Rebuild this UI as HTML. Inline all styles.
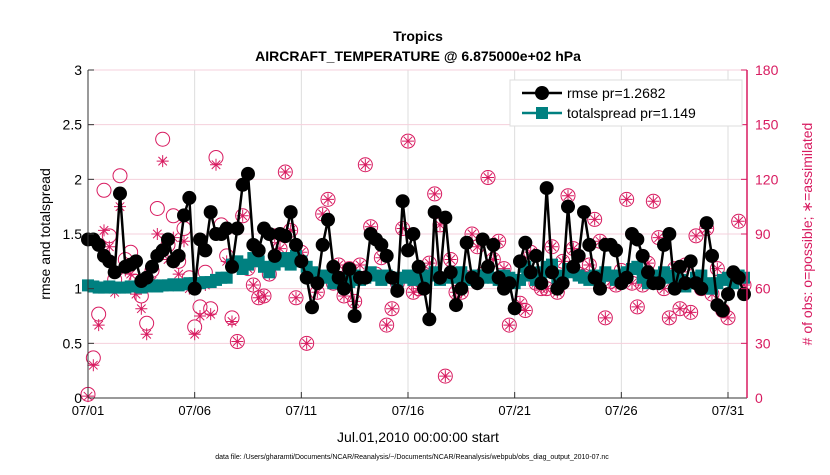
<!DOCTYPE html>
<html><head><meta charset="utf-8"><style>
body{margin:0;background:#fff;width:830px;height:470px;overflow:hidden;font-family:"Liberation Sans",sans-serif}
</style></head><body>
<svg id="chart" width="830" height="470" xmlns="http://www.w3.org/2000/svg" font-family="Liberation Sans, sans-serif">
<rect width="830" height="470" fill="#fff"/>
<g id="grid"></g>
<g id="obs"></g>
<g id="series"></g>
<g id="axes"></g>
<text x="418" y="41" font-size="14" font-weight="bold" text-anchor="middle">Tropics</text>
<text x="418" y="61" font-size="14" font-weight="bold" text-anchor="middle">AIRCRAFT_TEMPERATURE @ 6.875000e+02 hPa</text>
<text transform="translate(50,234) rotate(-90)" font-size="14" text-anchor="middle">rmse and totalspread</text>
<text transform="translate(812,234) rotate(-90)" font-size="14" fill="#d81b60" text-anchor="middle"># of obs: o=possible; ∗=assimilated</text>
<text x="418" y="442" font-size="14" text-anchor="middle">Jul.01,2010 00:00:00 start</text>
<text x="412" y="459" font-size="7" text-anchor="middle">data file: /Users/gharamti/Documents/NCAR/Reanalysis/~/Documents/NCAR/Reanalysis/webpub/obs_diag_output_2010-07.nc</text>
<g>
<rect x="510" y="80" width="232" height="46" fill="#fff" stroke="#ddd"/>
<line x1="522" y1="93" x2="562" y2="93" stroke="#000" stroke-width="2.5"/>
<circle cx="542" cy="93" r="7" fill="#000"/>
<text x="567" y="98" font-size="14">rmse pr=1.2682</text>
<line x1="522" y1="113" x2="562" y2="113" stroke="#008080" stroke-width="2.5"/>
<rect x="536" y="107" width="12" height="12" fill="#008080"/>
<text x="567" y="118" font-size="14">totalspread pr=1.149</text>
</g>
</svg>
<script>
const xTickLabels=["07/01","07/06","07/11","07/16","07/21","07/26","07/31"];
const xTickDays=[0,5,10,15,20,25,30];
const yTicks=[0,0.5,1,1.5,2,2.5,3];
const y2Ticks=[0,30,60,90,120,150,180];
const rmse=[1.45,1.45,1.40,1.30,1.25,1.15,1.87,1.20,1.22,1.25,1.07,1.10,1.20,1.30,1.35,1.45,1.25,1.30,1.67,1.83,1.00,1.45,1.35,1.70,1.50,1.50,1.55,1.20,1.55,1.95,2.05,1.40,1.35,1.55,1.50,1.30,1.50,1.48,1.70,1.40,1.25,1.10,0.83,1.05,1.40,1.63,1.20,1.10,1.00,1.18,0.75,1.10,1.10,1.50,1.45,1.40,1.30,1.10,0.98,1.80,1.35,1.50,1.20,1.00,0.72,1.70,1.10,1.65,1.15,0.85,1.00,1.42,1.10,1.05,1.45,1.20,1.40,1.10,1.00,1.05,0.82,1.25,1.42,1.15,1.30,1.05,1.92,1.15,1.00,1.05,1.75,1.20,1.30,1.70,1.40,1.10,1.00,1.40,1.40,1.35,1.05,1.10,1.50,1.45,1.30,1.15,1.05,1.05,1.40,1.50,1.00,1.20,1.05,1.25,1.05,1.00,1.60,1.30,0.85,0.80,0.95,1.15,1.10,0.95];
const spread=[1.03,1.02,1.01,1.01,1.02,1.01,1.01,1.01,1.02,1.02,1.01,1.02,1.03,1.02,1.03,1.03,1.04,1.03,1.04,1.05,1.05,1.05,1.06,1.06,1.08,1.10,1.10,1.22,1.25,1.18,1.22,1.28,1.25,1.20,1.15,1.22,1.25,1.28,1.22,1.30,1.25,1.20,1.15,1.10,1.12,1.10,1.05,1.08,1.10,1.06,1.12,1.08,1.10,1.15,1.12,1.08,1.12,1.10,1.05,1.10,1.12,1.08,1.10,1.06,1.12,1.15,1.08,1.10,1.12,1.10,1.15,1.08,1.10,1.12,1.10,1.15,1.10,1.08,1.12,1.10,1.05,1.08,1.20,1.12,1.08,1.15,1.20,1.22,1.10,1.12,1.18,1.15,1.12,1.10,1.08,1.12,1.10,1.15,1.12,1.08,1.12,1.15,1.18,1.20,1.10,1.05,1.10,1.12,1.15,1.10,1.12,1.08,1.02,1.05,1.10,1.12,1.05,1.00,1.05,1.08,1.10,1.05,1.12,1.10];
const possible=[2,22,46,114,89,65,122,76,80,64,56,41,70,104,142,84,100,75,93,66,39,50,69,49,132,95,78,44,31,100,71,62,55,56,68,89,82,124,92,55,80,30,67,58,101,109,63,73,56,71,53,73,128,94,68,77,40,49,63,93,141,58,60,68,74,112,95,12,76,58,58,66,90,83,68,121,76,86,71,40,64,52,48,80,63,60,60,83,58,75,111,82,68,67,73,98,86,44,64,62,70,109,63,50,62,74,108,88,60,44,71,49,73,47,89,60,93,57,71,48,44,64,97,62];
const assimilated=[1,18,40,92,83,58,105,70,68,57,49,35,64,90,130,76,88,68,86,60,35,45,62,46,128,91,75,42,31,100,71,62,55,56,68,89,82,124,92,55,80,30,67,58,101,109,63,73,56,71,53,73,128,94,68,77,40,49,63,93,141,58,60,68,74,112,95,12,76,58,58,66,90,83,68,121,76,86,71,40,64,52,48,80,63,60,60,83,58,75,111,82,68,67,73,98,86,44,64,62,70,109,63,50,62,74,108,88,60,44,71,49,73,47,89,60,93,57,71,48,44,64,97,62];

const NS="http://www.w3.org/2000/svg";
const X0=88,X1=747,Y0=398,Y1=70,PINK="#d81b60";
const xs=d=>X0+d*(640/30);
const ys=v=>Y0-v*(Y0-Y1)/3;
const ys2=n=>Y0-n*(Y0-Y1)/180;
function mk(tag,attrs,parent){const e=document.createElementNS(NS,tag);for(const k in attrs)e.setAttribute(k,attrs[k]);parent.appendChild(e);return e;}
const grid=document.getElementById('grid'),axes=document.getElementById('axes'),obs=document.getElementById('obs'),ser=document.getElementById('series');
xTickDays.forEach((d,i)=>{
  const g=mk('line',{x1:xs(d),x2:xs(d),y1:Y1,y2:Y0,stroke:"#ddd","stroke-width":1},grid);
  
  
  mk('line',{x1:xs(d),x2:xs(d),y1:Y0,y2:Y0-6,stroke:"#333"},axes);
  const t=mk('text',{x:xs(d),y:Y0+17,"font-size":13,"text-anchor":"middle"},axes);t.textContent=xTickLabels[i];
  
  
});
yTicks.forEach(v=>{
  const g=mk('line',{x1:X0,x2:X1,y1:ys(v),y2:ys(v),stroke:"#f5d0dc","stroke-width":1},grid);
  
  
  mk('line',{x1:X0,x2:X0+6,y1:ys(v),y2:ys(v),stroke:"#333"},axes);
  const t=mk('text',{x:X0-6,y:ys(v)+5,"font-size":14,"text-anchor":"end"},axes);t.textContent=String(v);
  
  
});
y2Ticks.forEach(n=>{
  mk('line',{x1:X1,x2:X1-6,y1:ys2(n),y2:ys2(n),stroke:PINK},axes);
  const t=mk('text',{x:X1+8,y:ys2(n)+5,"font-size":14,fill:PINK},axes);t.textContent=String(n);
  
  
});
mk('line',{x1:X0,x2:X0,y1:Y1,y2:Y0,stroke:"#333"},axes);
mk('line',{x1:X0,x2:X1,y1:Y0,y2:Y0,stroke:"#333"},axes);
mk('line',{x1:X1,x2:X1,y1:Y1,y2:Y0,stroke:PINK,"stroke-width":1.5},axes);
const dayOf=i=>i/4;
possible.forEach((n,i)=>{
  const c=mk('circle',{cx:xs(dayOf(i)),cy:ys2(n),r:7,fill:"none",stroke:PINK,"stroke-width":1},obs);
  
  
});
assimilated.forEach((n,i)=>{
  const cx=xs(dayOf(i)),cy=ys2(n),r=6;let d="";
  for(let k=0;k<4;k++){const a=k*Math.PI/4+Math.PI/2;d+=`M${cx-r*Math.cos(a)},${cy-r*Math.sin(a)}L${cx+r*Math.cos(a)},${cy+r*Math.sin(a)}`;}
  const p=mk('path',{d:d,stroke:PINK,"stroke-width":1,fill:"none"},obs);
  
  
});
const sp=mk('polyline',{points:spread.map((v,i)=>xs(dayOf(i))+","+ys(v)).join(" "),fill:"none",stroke:"#008080","stroke-width":2.5},ser);


spread.forEach((v,i)=>{
  const r=mk('rect',{x:xs(dayOf(i))-6,y:ys(v)-6,width:12,height:12,fill:"#008080"},ser);
  
  
});
const rl=mk('polyline',{points:rmse.map((v,i)=>xs(dayOf(i))+","+ys(v)).join(" "),fill:"none",stroke:"#000","stroke-width":2.5},ser);


rmse.forEach((v,i)=>{
  const c=mk('circle',{cx:xs(dayOf(i)),cy:ys(v),r:7,fill:"#000"},ser);
  
  
});
</script>
</body></html>
